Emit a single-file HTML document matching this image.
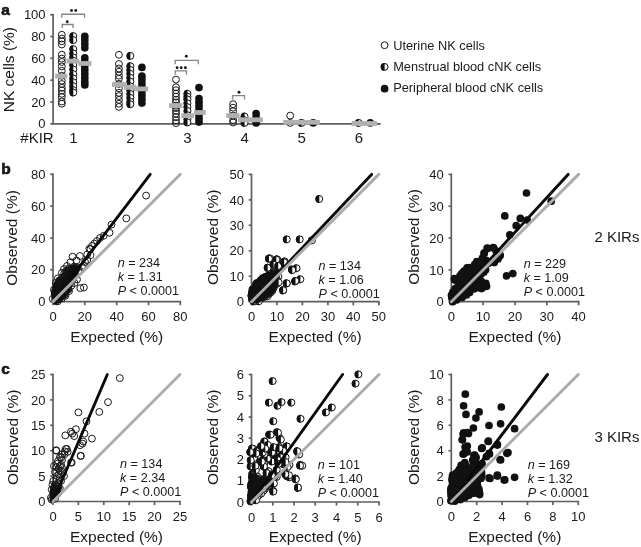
<!DOCTYPE html>
<html><head><meta charset="utf-8"><title>Figure</title>
<style>html,body{margin:0;padding:0;background:#fff;} svg{display:block;filter:grayscale(1);} text{font-family:"Liberation Sans", sans-serif;}</style>
</head><body>
<svg width="641" height="547" viewBox="0 0 641 547" font-family='"Liberation Sans", sans-serif' fill="#1a1a1a">
<defs>
<g id="o"><circle r="3.45" fill="none" stroke="#1a1a1a" stroke-width="1.0"/></g>
<g id="h"><circle r="3.45" fill="#fff" stroke="#111" stroke-width="1.0"/><path d="M0,-3.95 A3.95,3.95 0 0 0 0,3.95 Z" fill="#111"/></g>
<g id="f"><circle r="3.85" fill="#111"/></g>
</defs>
<rect width="641" height="547" fill="#fff"/>
<text x="1.2" y="14.6" font-size="15.5" text-anchor="start" font-weight="bold"  stroke="#111" stroke-width="0.6">a</text>
<line x1="53.1" y1="13.899999999999999" x2="53.1" y2="123.8" stroke="#5e5e5e" stroke-width="1.7"/>
<line x1="52.300000000000004" y1="123.8" x2="380.7" y2="123.8" stroke="#5e5e5e" stroke-width="1.7"/>
<line x1="50.3" y1="123.8" x2="53.1" y2="123.8" stroke="#5e5e5e" stroke-width="1.7"/>
<text x="45.6" y="128.4" font-size="13" text-anchor="end" font-weight="normal"  >0</text>
<line x1="50.3" y1="102.0" x2="53.1" y2="102.0" stroke="#5e5e5e" stroke-width="1.7"/>
<text x="45.6" y="106.6" font-size="13" text-anchor="end" font-weight="normal"  >20</text>
<line x1="50.3" y1="80.2" x2="53.1" y2="80.2" stroke="#5e5e5e" stroke-width="1.7"/>
<text x="45.6" y="84.8" font-size="13" text-anchor="end" font-weight="normal"  >40</text>
<line x1="50.3" y1="58.3" x2="53.1" y2="58.3" stroke="#5e5e5e" stroke-width="1.7"/>
<text x="45.6" y="62.9" font-size="13" text-anchor="end" font-weight="normal"  >60</text>
<line x1="50.3" y1="36.5" x2="53.1" y2="36.5" stroke="#5e5e5e" stroke-width="1.7"/>
<text x="45.6" y="41.1" font-size="13" text-anchor="end" font-weight="normal"  >80</text>
<line x1="50.3" y1="14.7" x2="53.1" y2="14.7" stroke="#5e5e5e" stroke-width="1.7"/>
<text x="45.6" y="19.3" font-size="13" text-anchor="end" font-weight="normal"  >100</text>
<text transform="translate(13.6,69.6) rotate(-90)" font-size="15.5" text-anchor="middle">NK cells (%)</text>
<text x="20.3" y="143.3" font-size="15" text-anchor="start" font-weight="normal"  >#KIR</text>
<text x="73.3" y="143.3" font-size="15" text-anchor="middle" font-weight="normal"  >1</text>
<text x="130.4" y="143.3" font-size="15" text-anchor="middle" font-weight="normal"  >2</text>
<text x="187.5" y="143.3" font-size="15" text-anchor="middle" font-weight="normal"  >3</text>
<text x="244.6" y="143.3" font-size="15" text-anchor="middle" font-weight="normal"  >4</text>
<text x="301.7" y="143.3" font-size="15" text-anchor="middle" font-weight="normal"  >5</text>
<text x="358.8" y="143.3" font-size="15" text-anchor="middle" font-weight="normal"  >6</text>
<use href="#o" x="61.8" y="34.8"/>
<use href="#o" x="61.8" y="38.6"/>
<use href="#o" x="61.8" y="41.3"/>
<use href="#o" x="61.8" y="44.5"/>
<use href="#o" x="61.8" y="54.7"/>
<use href="#o" x="61.8" y="58.6"/>
<use href="#o" x="61.8" y="62.0"/>
<use href="#o" x="61.8" y="66.4"/>
<use href="#o" x="61.8" y="70.8"/>
<use href="#o" x="61.8" y="75.8"/>
<use href="#o" x="61.8" y="80.7"/>
<use href="#o" x="61.8" y="84.0"/>
<use href="#o" x="61.8" y="87.8"/>
<use href="#o" x="61.8" y="90.5"/>
<use href="#o" x="61.8" y="93.8"/>
<use href="#o" x="61.8" y="97.1"/>
<use href="#o" x="61.8" y="101.5"/>
<use href="#o" x="61.8" y="103.7"/>
<use href="#h" x="73.3" y="36.1"/>
<use href="#h" x="73.3" y="40.1"/>
<use href="#h" x="73.3" y="49.1"/>
<use href="#h" x="73.3" y="53.5"/>
<use href="#h" x="73.3" y="57.4"/>
<use href="#h" x="73.3" y="60.6"/>
<use href="#h" x="73.3" y="65.0"/>
<use href="#h" x="73.3" y="69.5"/>
<use href="#h" x="73.3" y="74.1"/>
<use href="#h" x="73.3" y="78.5"/>
<use href="#h" x="73.3" y="82.3"/>
<use href="#h" x="73.3" y="86.2"/>
<use href="#h" x="73.3" y="90.1"/>
<use href="#h" x="73.3" y="92.5"/>
<use href="#f" x="84.8" y="36.3"/>
<use href="#f" x="84.8" y="39.8"/>
<use href="#f" x="84.8" y="43.8"/>
<use href="#f" x="84.8" y="47.8"/>
<use href="#f" x="84.8" y="57.9"/>
<use href="#f" x="84.8" y="61.9"/>
<use href="#f" x="84.8" y="65.9"/>
<use href="#f" x="84.8" y="69.9"/>
<use href="#f" x="84.8" y="73.8"/>
<use href="#f" x="84.8" y="77.9"/>
<use href="#f" x="84.8" y="81.8"/>
<use href="#f" x="84.8" y="84.9"/>
<use href="#o" x="118.9" y="54.8"/>
<use href="#o" x="118.9" y="64.0"/>
<use href="#o" x="118.9" y="68.6"/>
<use href="#o" x="118.9" y="71.8"/>
<use href="#o" x="118.9" y="75.6"/>
<use href="#o" x="118.9" y="78.7"/>
<use href="#o" x="118.9" y="83.9"/>
<use href="#o" x="118.9" y="88.3"/>
<use href="#o" x="118.9" y="92.8"/>
<use href="#o" x="118.9" y="96.1"/>
<use href="#o" x="118.9" y="99.9"/>
<use href="#o" x="118.9" y="103.7"/>
<use href="#o" x="118.9" y="106.9"/>
<use href="#h" x="130.4" y="55.9"/>
<use href="#h" x="130.4" y="66.2"/>
<use href="#h" x="130.4" y="70.0"/>
<use href="#h" x="130.4" y="73.8"/>
<use href="#h" x="130.4" y="77.8"/>
<use href="#h" x="130.4" y="81.6"/>
<use href="#h" x="130.4" y="86.4"/>
<use href="#h" x="130.4" y="90.2"/>
<use href="#h" x="130.4" y="94.0"/>
<use href="#h" x="130.4" y="97.9"/>
<use href="#h" x="130.4" y="101.7"/>
<use href="#h" x="130.4" y="104.3"/>
<use href="#f" x="141.9" y="67.4"/>
<use href="#f" x="141.9" y="76.2"/>
<use href="#f" x="141.9" y="80.1"/>
<use href="#f" x="141.9" y="83.9"/>
<use href="#f" x="141.9" y="87.8"/>
<use href="#f" x="141.9" y="91.5"/>
<use href="#f" x="141.9" y="95.4"/>
<use href="#f" x="141.9" y="99.3"/>
<use href="#f" x="141.9" y="103.1"/>
<use href="#o" x="176.0" y="79.6"/>
<use href="#o" x="176.0" y="87.3"/>
<use href="#o" x="176.0" y="90.2"/>
<use href="#o" x="176.0" y="93.5"/>
<use href="#o" x="176.0" y="96.7"/>
<use href="#o" x="176.0" y="99.7"/>
<use href="#o" x="176.0" y="102.3"/>
<use href="#o" x="176.0" y="105.7"/>
<use href="#o" x="176.0" y="108.0"/>
<use href="#o" x="176.0" y="110.9"/>
<use href="#o" x="176.0" y="113.7"/>
<use href="#o" x="176.0" y="117.1"/>
<use href="#o" x="176.0" y="120.4"/>
<use href="#o" x="176.0" y="123.1"/>
<use href="#h" x="187.5" y="93.8"/>
<use href="#h" x="187.5" y="96.7"/>
<use href="#h" x="187.5" y="99.5"/>
<use href="#h" x="187.5" y="103.3"/>
<use href="#h" x="187.5" y="107.1"/>
<use href="#h" x="187.5" y="110.9"/>
<use href="#h" x="187.5" y="115.2"/>
<use href="#h" x="187.5" y="119.4"/>
<use href="#h" x="187.5" y="122.4"/>
<use href="#f" x="199.0" y="87.6"/>
<use href="#f" x="199.0" y="98.5"/>
<use href="#f" x="199.0" y="102.3"/>
<use href="#f" x="199.0" y="106.1"/>
<use href="#f" x="199.0" y="109.9"/>
<use href="#f" x="199.0" y="112.5"/>
<use href="#f" x="199.0" y="114.7"/>
<use href="#f" x="199.0" y="118.6"/>
<use href="#f" x="199.0" y="122.1"/>
<use href="#o" x="233.1" y="104.2"/>
<use href="#o" x="233.1" y="107.7"/>
<use href="#o" x="233.1" y="111.3"/>
<use href="#o" x="233.1" y="115.6"/>
<use href="#o" x="233.1" y="120.0"/>
<use href="#o" x="233.1" y="122.5"/>
<use href="#h" x="244.6" y="116.5"/>
<use href="#h" x="244.6" y="120.3"/>
<use href="#h" x="244.6" y="122.9"/>
<use href="#f" x="256.1" y="113.5"/>
<use href="#f" x="256.1" y="117.3"/>
<use href="#f" x="256.1" y="120.5"/>
<use href="#f" x="256.1" y="122.9"/>
<use href="#o" x="290.2" y="115.6"/>
<use href="#o" x="290.2" y="122.9"/>
<use href="#h" x="301.7" y="122.9"/>
<use href="#f" x="313.2" y="122.9"/>
<use href="#h" x="358.8" y="122.9"/>
<use href="#f" x="370.3" y="122.9"/>
<rect x="55.2" y="73.7" width="12.1" height="4.8" fill="#b0b0b0"/>
<rect x="66.6" y="58.7" width="12.7" height="4.8" fill="#b0b0b0"/>
<rect x="78.4" y="61.1" width="13.0" height="4.8" fill="#b0b0b0"/>
<rect x="112" y="82.1" width="14.3" height="4.8" fill="#b0b0b0"/>
<rect x="123.8" y="84.9" width="12.7" height="4.8" fill="#b0b0b0"/>
<rect x="135" y="86.5" width="13.2" height="4.8" fill="#b0b0b0"/>
<rect x="169.2" y="103.2" width="13.2" height="4.8" fill="#b0b0b0"/>
<rect x="181.3" y="113.3" width="12.7" height="4.8" fill="#b0b0b0"/>
<rect x="194" y="110.1" width="11.7" height="4.8" fill="#b0b0b0"/>
<rect x="226.2" y="113.2" width="13.3" height="4.8" fill="#b0b0b0"/>
<rect x="238" y="117.4" width="24.9" height="4.8" fill="#b0b0b0"/>
<rect x="283.2" y="119.9" width="36.7" height="4.8" fill="#b0b0b0"/>
<rect x="351.7" y="121.1" width="25.3" height="4.8" fill="#b0b0b0"/>
<path d="M61.75,17.75 V14.25 H84.5 V17.75" fill="none" stroke="#858585" stroke-width="1.3"/>
<circle cx="71.5" cy="10.5" r="1.45" fill="#1a1a1a"/>
<circle cx="75.75" cy="10.5" r="1.45" fill="#1a1a1a"/>
<path d="M62.25,28 V24.5 H73 V28" fill="none" stroke="#858585" stroke-width="1.3"/>
<circle cx="67.25" cy="21.75" r="1.45" fill="#1a1a1a"/>
<path d="M175.2,64.3 V60.4 H198.2 V64.3" fill="none" stroke="#858585" stroke-width="1.3"/>
<circle cx="186.3" cy="56.3" r="1.45" fill="#1a1a1a"/>
<path d="M175.2,74.7 V70.8 H186.5 V74.7" fill="none" stroke="#858585" stroke-width="1.3"/>
<circle cx="177.1" cy="67.7" r="1.45" fill="#1a1a1a"/>
<circle cx="181.2" cy="67.7" r="1.45" fill="#1a1a1a"/>
<circle cx="185.4" cy="67.7" r="1.45" fill="#1a1a1a"/>
<path d="M232.8,99.5 V95.6 H244.5 V99.5" fill="none" stroke="#858585" stroke-width="1.3"/>
<circle cx="239.0" cy="92.2" r="1.45" fill="#1a1a1a"/>
<use href="#o" x="384.6" y="45.2"/>
<text x="393.2" y="49.5" font-size="12.8" text-anchor="start" font-weight="normal"  >Uterine NK cells</text>
<use href="#h" x="384.6" y="66.9"/>
<text x="393.2" y="70.8" font-size="12.8" text-anchor="start" font-weight="normal"  >Menstrual blood cNK cells</text>
<use href="#f" x="384.6" y="88.7"/>
<text x="393.2" y="92.1" font-size="12.8" text-anchor="start" font-weight="normal"  >Peripheral blood cNK cells</text>
<line x1="53" y1="173.5" x2="53" y2="301.6" stroke="#5e5e5e" stroke-width="1.7"/>
<line x1="52.2" y1="301.6" x2="181.10000000000002" y2="301.6" stroke="#5e5e5e" stroke-width="1.7"/>
<line x1="50.2" y1="301.6" x2="53" y2="301.6" stroke="#5e5e5e" stroke-width="1.7"/>
<line x1="53.0" y1="301.6" x2="53.0" y2="305.20000000000005" stroke="#5e5e5e" stroke-width="1.7"/>
<text x="45.4" y="306.2" font-size="13" text-anchor="end" font-weight="normal"  >0</text>
<text x="53.0" y="321.2" font-size="13" text-anchor="middle" font-weight="normal"  >0</text>
<line x1="50.2" y1="269.8" x2="53" y2="269.8" stroke="#5e5e5e" stroke-width="1.7"/>
<line x1="84.8" y1="301.6" x2="84.8" y2="305.20000000000005" stroke="#5e5e5e" stroke-width="1.7"/>
<text x="45.4" y="274.4" font-size="13" text-anchor="end" font-weight="normal"  >20</text>
<text x="84.8" y="321.2" font-size="13" text-anchor="middle" font-weight="normal"  >20</text>
<line x1="50.2" y1="238.0" x2="53" y2="238.0" stroke="#5e5e5e" stroke-width="1.7"/>
<line x1="116.7" y1="301.6" x2="116.7" y2="305.20000000000005" stroke="#5e5e5e" stroke-width="1.7"/>
<text x="45.4" y="242.6" font-size="13" text-anchor="end" font-weight="normal"  >40</text>
<text x="116.7" y="321.2" font-size="13" text-anchor="middle" font-weight="normal"  >40</text>
<line x1="50.2" y1="206.1" x2="53" y2="206.1" stroke="#5e5e5e" stroke-width="1.7"/>
<line x1="148.5" y1="301.6" x2="148.5" y2="305.20000000000005" stroke="#5e5e5e" stroke-width="1.7"/>
<text x="45.4" y="210.7" font-size="13" text-anchor="end" font-weight="normal"  >60</text>
<text x="148.5" y="321.2" font-size="13" text-anchor="middle" font-weight="normal"  >60</text>
<line x1="50.2" y1="174.3" x2="53" y2="174.3" stroke="#5e5e5e" stroke-width="1.7"/>
<line x1="180.3" y1="301.6" x2="180.3" y2="305.20000000000005" stroke="#5e5e5e" stroke-width="1.7"/>
<text x="45.4" y="178.9" font-size="13" text-anchor="end" font-weight="normal"  >80</text>
<text x="180.3" y="321.2" font-size="13" text-anchor="middle" font-weight="normal"  >80</text>
<text x="116.7" y="341.9" font-size="15.5" text-anchor="middle" font-weight="normal"  >Expected (%)</text>
<text transform="translate(17.4,237.9) rotate(-90)" font-size="15.5" text-anchor="middle">Observed (%)</text>
<text x="117.7" y="266.9" font-size="12.6"><tspan font-style="italic">n</tspan> = 234</text>
<text x="117.7" y="280.6" font-size="12.6"><tspan font-style="italic">k</tspan> = 1.31</text>
<text x="117.7" y="295" font-size="12.6"><tspan font-style="italic">P</tspan> &lt; 0.0001</text>
<use href="#o" x="52.7" y="298.8"/>
<use href="#o" x="53.9" y="289.7"/>
<use href="#o" x="55.8" y="282.8"/>
<use href="#o" x="59.5" y="280.3"/>
<use href="#o" x="62.0" y="277.4"/>
<use href="#o" x="64.3" y="273.2"/>
<use href="#o" x="66.6" y="270.5"/>
<use href="#o" x="69.1" y="268.3"/>
<use href="#o" x="74.0" y="266.6"/>
<use href="#o" x="76.7" y="267.3"/>
<use href="#o" x="78.4" y="271.1"/>
<use href="#o" x="75.3" y="275.6"/>
<use href="#o" x="72.3" y="280.4"/>
<use href="#o" x="69.7" y="284.1"/>
<use href="#o" x="68.5" y="289.3"/>
<use href="#o" x="64.7" y="294.8"/>
<use href="#o" x="61.7" y="298.6"/>
<use href="#o" x="57.7" y="301.3"/>
<use href="#o" x="56.1" y="301.4"/>
<polygon points="51.5,301.0 50.9,291.5 53.5,283.0 56.5,278.5 61.0,275.5 63.5,270.0 66.0,267.0 70.0,265.5 74.0,264.0 79.0,265.5 80.6,269.0 78.0,274.0 75.0,279.0 72.0,285.0 71.0,291.5 65.5,297.9 61.9,301.6 57.0,304.0 53.0,304.0" fill="#111"/>
<use href="#o" x="146.1" y="195.6"/>
<use href="#o" x="126.3" y="218.4"/>
<use href="#o" x="111.5" y="224.6"/>
<use href="#o" x="109.5" y="232.7"/>
<use href="#o" x="103.7" y="235.8"/>
<use href="#o" x="94.3" y="243.6"/>
<use href="#o" x="90.4" y="249.1"/>
<use href="#o" x="72.6" y="256.7"/>
<use href="#o" x="79.9" y="256.0"/>
<use href="#o" x="70.4" y="262.2"/>
<use href="#o" x="61.9" y="272.8"/>
<use href="#o" x="57.9" y="278.3"/>
<use href="#o" x="80.3" y="288.1"/>
<use href="#o" x="83.9" y="287.5"/>
<use href="#o" x="89.4" y="248.7"/>
<use href="#o" x="90.5" y="255.2"/>
<use href="#o" x="87.2" y="260.0"/>
<use href="#o" x="87.2" y="254.5"/>
<use href="#o" x="83.9" y="265.8"/>
<use href="#o" x="82.0" y="266.9"/>
<use href="#o" x="71.4" y="285.7"/>
<use href="#o" x="69.0" y="291.1"/>
<use href="#o" x="65.4" y="295.8"/>
<use href="#o" x="76.5" y="260.5"/>
<use href="#o" x="67.0" y="266.0"/>
<use href="#o" x="64.0" y="269.0"/>
<use href="#o" x="100.0" y="238.0"/>
<use href="#o" x="97.0" y="241.0"/>
<use href="#o" x="92.0" y="246.0"/>
<use href="#o" x="85.0" y="262.0"/>
<use href="#o" x="74.5" y="283.0"/>
<use href="#o" x="77.0" y="279.5"/>
<line x1="53" y1="301.6" x2="150.2" y2="174.3" stroke="#0a0a0a" stroke-width="2.9" stroke-linecap="round"/>
<line x1="53" y1="301.6" x2="180.3" y2="174.3" stroke="#ababab" stroke-width="2.9" stroke-linecap="round"/>
<line x1="251.5" y1="173.59999999999997" x2="251.5" y2="301.7" stroke="#5e5e5e" stroke-width="1.7"/>
<line x1="250.7" y1="301.7" x2="379.6" y2="301.7" stroke="#5e5e5e" stroke-width="1.7"/>
<line x1="248.7" y1="301.7" x2="251.5" y2="301.7" stroke="#5e5e5e" stroke-width="1.7"/>
<line x1="251.5" y1="301.7" x2="251.5" y2="305.3" stroke="#5e5e5e" stroke-width="1.7"/>
<text x="243.9" y="306.3" font-size="13" text-anchor="end" font-weight="normal"  >0</text>
<text x="251.5" y="321.3" font-size="13" text-anchor="middle" font-weight="normal"  >0</text>
<line x1="248.7" y1="276.2" x2="251.5" y2="276.2" stroke="#5e5e5e" stroke-width="1.7"/>
<line x1="277.0" y1="301.7" x2="277.0" y2="305.3" stroke="#5e5e5e" stroke-width="1.7"/>
<text x="243.9" y="280.8" font-size="13" text-anchor="end" font-weight="normal"  >10</text>
<text x="277.0" y="321.3" font-size="13" text-anchor="middle" font-weight="normal"  >10</text>
<line x1="248.7" y1="250.8" x2="251.5" y2="250.8" stroke="#5e5e5e" stroke-width="1.7"/>
<line x1="302.4" y1="301.7" x2="302.4" y2="305.3" stroke="#5e5e5e" stroke-width="1.7"/>
<text x="243.9" y="255.4" font-size="13" text-anchor="end" font-weight="normal"  >20</text>
<text x="302.4" y="321.3" font-size="13" text-anchor="middle" font-weight="normal"  >20</text>
<line x1="248.7" y1="225.3" x2="251.5" y2="225.3" stroke="#5e5e5e" stroke-width="1.7"/>
<line x1="327.9" y1="301.7" x2="327.9" y2="305.3" stroke="#5e5e5e" stroke-width="1.7"/>
<text x="243.9" y="229.9" font-size="13" text-anchor="end" font-weight="normal"  >30</text>
<text x="327.9" y="321.3" font-size="13" text-anchor="middle" font-weight="normal"  >30</text>
<line x1="248.7" y1="199.9" x2="251.5" y2="199.9" stroke="#5e5e5e" stroke-width="1.7"/>
<line x1="353.3" y1="301.7" x2="353.3" y2="305.3" stroke="#5e5e5e" stroke-width="1.7"/>
<text x="243.9" y="204.5" font-size="13" text-anchor="end" font-weight="normal"  >40</text>
<text x="353.3" y="321.3" font-size="13" text-anchor="middle" font-weight="normal"  >40</text>
<line x1="248.7" y1="174.4" x2="251.5" y2="174.4" stroke="#5e5e5e" stroke-width="1.7"/>
<line x1="378.8" y1="301.7" x2="378.8" y2="305.3" stroke="#5e5e5e" stroke-width="1.7"/>
<text x="243.9" y="179.0" font-size="13" text-anchor="end" font-weight="normal"  >50</text>
<text x="378.8" y="321.3" font-size="13" text-anchor="middle" font-weight="normal"  >50</text>
<text x="315.1" y="342.0" font-size="15.5" text-anchor="middle" font-weight="normal"  >Expected (%)</text>
<text transform="translate(218.2,237.3) rotate(-90)" font-size="15.5" text-anchor="middle">Observed (%)</text>
<text x="318.5" y="269.7" font-size="12.6"><tspan font-style="italic">n</tspan> = 134</text>
<text x="318.5" y="283.7" font-size="12.6"><tspan font-style="italic">k</tspan> = 1.06</text>
<text x="318.5" y="297.7" font-size="12.6"><tspan font-style="italic">P</tspan> &lt; 0.0001</text>
<use href="#h" x="251.9" y="293.0"/>
<use href="#h" x="252.6" y="289.5"/>
<use href="#h" x="254.6" y="288.5"/>
<use href="#h" x="256.0" y="284.8"/>
<use href="#h" x="256.7" y="283.3"/>
<use href="#h" x="259.7" y="281.8"/>
<use href="#h" x="260.9" y="280.2"/>
<use href="#h" x="262.9" y="278.2"/>
<use href="#h" x="265.6" y="276.9"/>
<use href="#h" x="269.3" y="274.6"/>
<use href="#h" x="273.7" y="272.5"/>
<use href="#h" x="277.8" y="271.1"/>
<use href="#h" x="277.4" y="274.0"/>
<use href="#h" x="278.3" y="276.7"/>
<use href="#h" x="277.5" y="280.7"/>
<use href="#h" x="277.0" y="283.6"/>
<use href="#h" x="274.8" y="285.6"/>
<use href="#h" x="273.3" y="288.6"/>
<use href="#h" x="272.3" y="290.9"/>
<use href="#h" x="270.5" y="292.6"/>
<use href="#h" x="268.4" y="294.9"/>
<use href="#h" x="267.3" y="296.3"/>
<use href="#h" x="264.0" y="297.1"/>
<use href="#h" x="260.6" y="299.0"/>
<use href="#h" x="258.8" y="301.3"/>
<use href="#h" x="255.8" y="301.1"/>
<use href="#h" x="253.8" y="301.4"/>
<use href="#h" x="252.0" y="298.9"/>
<use href="#h" x="251.5" y="295.6"/>
<polygon points="248.9,293.4 254.4,282.4 261.7,276.0 269.0,271.9 274.5,270.5 279.0,268.7 280.0,275.1 278.2,285.2 274.5,292.5 269.0,298.0 263.5,300.7 257.1,303.4 251.0,304.0" fill="#111"/>
<use href="#h" x="319.3" y="199.0"/>
<use href="#h" x="286.8" y="239.4"/>
<use href="#h" x="299.8" y="239.4"/>
<use href="#h" x="312.0" y="240.4"/>
<use href="#h" x="270.0" y="258.3"/>
<use href="#h" x="277.3" y="259.3"/>
<use href="#h" x="284.7" y="261.4"/>
<use href="#h" x="267.9" y="267.7"/>
<use href="#h" x="273.5" y="264.6"/>
<use href="#h" x="279.4" y="265.6"/>
<use href="#h" x="292.0" y="269.4"/>
<use href="#h" x="296.6" y="268.2"/>
<use href="#h" x="295.2" y="281.4"/>
<use href="#h" x="300.4" y="279.3"/>
<use href="#h" x="286.8" y="283.5"/>
<use href="#h" x="283.2" y="290.4"/>
<use href="#h" x="269.0" y="258.7"/>
<use href="#h" x="276.3" y="259.6"/>
<use href="#h" x="267.7" y="267.8"/>
<use href="#h" x="273.6" y="264.6"/>
<use href="#h" x="278.2" y="266.0"/>
<use href="#h" x="284.1" y="262.3"/>
<use href="#h" x="292.3" y="270.1"/>
<use href="#h" x="295.5" y="281.0"/>
<use href="#h" x="286.8" y="283.3"/>
<use href="#h" x="283.2" y="290.2"/>
<use href="#h" x="278.6" y="282.4"/>
<line x1="251.5" y1="301.7" x2="371.6" y2="174.39999999999998" stroke="#0a0a0a" stroke-width="2.9" stroke-linecap="round"/>
<line x1="251.5" y1="301.7" x2="378.8" y2="174.39999999999998" stroke="#ababab" stroke-width="2.9" stroke-linecap="round"/>
<line x1="451.3" y1="173.59999999999997" x2="451.3" y2="301.7" stroke="#5e5e5e" stroke-width="1.7"/>
<line x1="450.5" y1="301.7" x2="579.4" y2="301.7" stroke="#5e5e5e" stroke-width="1.7"/>
<line x1="448.5" y1="301.7" x2="451.3" y2="301.7" stroke="#5e5e5e" stroke-width="1.7"/>
<line x1="451.3" y1="301.7" x2="451.3" y2="305.3" stroke="#5e5e5e" stroke-width="1.7"/>
<text x="443.7" y="306.3" font-size="13" text-anchor="end" font-weight="normal"  >0</text>
<text x="451.3" y="321.3" font-size="13" text-anchor="middle" font-weight="normal"  >0</text>
<line x1="448.5" y1="269.9" x2="451.3" y2="269.9" stroke="#5e5e5e" stroke-width="1.7"/>
<line x1="483.1" y1="301.7" x2="483.1" y2="305.3" stroke="#5e5e5e" stroke-width="1.7"/>
<text x="443.7" y="274.5" font-size="13" text-anchor="end" font-weight="normal"  >10</text>
<text x="483.1" y="321.3" font-size="13" text-anchor="middle" font-weight="normal"  >10</text>
<line x1="448.5" y1="238.0" x2="451.3" y2="238.0" stroke="#5e5e5e" stroke-width="1.7"/>
<line x1="515.0" y1="301.7" x2="515.0" y2="305.3" stroke="#5e5e5e" stroke-width="1.7"/>
<text x="443.7" y="242.6" font-size="13" text-anchor="end" font-weight="normal"  >20</text>
<text x="515.0" y="321.3" font-size="13" text-anchor="middle" font-weight="normal"  >20</text>
<line x1="448.5" y1="206.2" x2="451.3" y2="206.2" stroke="#5e5e5e" stroke-width="1.7"/>
<line x1="546.8" y1="301.7" x2="546.8" y2="305.3" stroke="#5e5e5e" stroke-width="1.7"/>
<text x="443.7" y="210.8" font-size="13" text-anchor="end" font-weight="normal"  >30</text>
<text x="546.8" y="321.3" font-size="13" text-anchor="middle" font-weight="normal"  >30</text>
<line x1="448.5" y1="174.4" x2="451.3" y2="174.4" stroke="#5e5e5e" stroke-width="1.7"/>
<line x1="578.6" y1="301.7" x2="578.6" y2="305.3" stroke="#5e5e5e" stroke-width="1.7"/>
<text x="443.7" y="179.0" font-size="13" text-anchor="end" font-weight="normal"  >40</text>
<text x="578.6" y="321.3" font-size="13" text-anchor="middle" font-weight="normal"  >40</text>
<text x="515.0" y="342.0" font-size="15.5" text-anchor="middle" font-weight="normal"  >Expected (%)</text>
<text transform="translate(418.5,237.0) rotate(-90)" font-size="15.5" text-anchor="middle">Observed (%)</text>
<text x="523.7" y="268.1" font-size="12.6"><tspan font-style="italic">n</tspan> = 229</text>
<text x="523.7" y="281.9" font-size="12.6"><tspan font-style="italic">k</tspan> = 1.09</text>
<text x="523.7" y="295.6" font-size="12.6"><tspan font-style="italic">P</tspan> &lt; 0.0001</text>
<use href="#f" x="451.8" y="297.7"/>
<use href="#f" x="451.5" y="295.2"/>
<use href="#f" x="452.9" y="292.0"/>
<use href="#f" x="455.3" y="288.6"/>
<use href="#f" x="459.7" y="285.2"/>
<use href="#f" x="457.7" y="281.7"/>
<use href="#f" x="454.8" y="279.9"/>
<use href="#f" x="454.5" y="278.7"/>
<use href="#f" x="460.0" y="275.8"/>
<use href="#f" x="461.7" y="273.7"/>
<use href="#f" x="463.2" y="272.5"/>
<use href="#f" x="464.0" y="271.0"/>
<use href="#f" x="467.4" y="268.2"/>
<use href="#f" x="470.0" y="267.6"/>
<use href="#f" x="474.8" y="264.4"/>
<use href="#f" x="476.8" y="261.5"/>
<use href="#f" x="482.4" y="258.2"/>
<use href="#f" x="486.1" y="260.3"/>
<use href="#f" x="488.4" y="263.3"/>
<use href="#f" x="485.6" y="269.7"/>
<use href="#f" x="483.7" y="272.2"/>
<use href="#f" x="480.9" y="274.2"/>
<use href="#f" x="479.0" y="276.4"/>
<use href="#f" x="478.5" y="280.6"/>
<use href="#f" x="481.1" y="281.1"/>
<use href="#f" x="485.8" y="283.3"/>
<use href="#f" x="486.5" y="286.3"/>
<use href="#f" x="481.6" y="288.6"/>
<use href="#f" x="478.5" y="287.6"/>
<use href="#f" x="476.1" y="287.5"/>
<use href="#f" x="473.9" y="289.0"/>
<use href="#f" x="470.4" y="287.8"/>
<use href="#f" x="469.6" y="292.5"/>
<use href="#f" x="466.5" y="295.0"/>
<use href="#f" x="462.1" y="297.4"/>
<use href="#f" x="456.5" y="300.0"/>
<use href="#f" x="452.7" y="301.7"/>
<polygon points="449.6,299.7 450.4,293.4 452.7,289.1 456.6,285.6 455.1,282.4 452.5,280.0 453.2,277.3 457.4,274.6 459.0,272.2 463.7,267.5 466.9,265.1 470.8,265.1 474.7,262.0 478.1,258.6 483.1,257.1 487.0,258.0 490.0,262.0 487.7,267.2 486.2,271.2 481.1,275.2 481.6,280.2 487.2,284.3 488.2,287.3 484.1,289.8 478.1,289.8 471.6,291.0 469.2,295.0 465.3,298.1 460.6,300.0 455.9,302.1 451.9,303.6" fill="#111"/>
<use href="#f" x="526.5" y="193.0"/>
<use href="#f" x="551.2" y="201.2"/>
<use href="#f" x="504.8" y="215.9"/>
<use href="#f" x="520.3" y="218.4"/>
<use href="#f" x="527.2" y="220.0"/>
<use href="#f" x="516.2" y="225.7"/>
<use href="#f" x="509.8" y="234.8"/>
<use href="#f" x="487.7" y="248.5"/>
<use href="#f" x="493.8" y="248.0"/>
<use href="#f" x="484.3" y="253.1"/>
<use href="#f" x="499.8" y="256.0"/>
<use href="#f" x="494.5" y="261.1"/>
<use href="#f" x="506.6" y="275.9"/>
<use href="#f" x="512.8" y="273.6"/>
<use href="#f" x="485.4" y="286.2"/>
<use href="#f" x="467.1" y="267.9"/>
<use href="#f" x="454.6" y="279.3"/>
<use href="#f" x="484.1" y="253.1"/>
<use href="#f" x="487.2" y="248.0"/>
<use href="#f" x="493.2" y="247.5"/>
<use href="#f" x="496.2" y="251.1"/>
<use href="#f" x="500.2" y="255.1"/>
<use href="#f" x="494.2" y="262.6"/>
<use href="#f" x="498.0" y="259.0"/>
<use href="#f" x="485.5" y="286.5"/>
<line x1="451.3" y1="301.7" x2="568.1" y2="174.39999999999998" stroke="#0a0a0a" stroke-width="2.9" stroke-linecap="round"/>
<line x1="451.3" y1="301.7" x2="578.6" y2="174.39999999999998" stroke="#ababab" stroke-width="2.9" stroke-linecap="round"/>
<line x1="53" y1="373.7" x2="53" y2="501.5" stroke="#5e5e5e" stroke-width="1.7"/>
<line x1="52.2" y1="501.5" x2="180.8" y2="501.5" stroke="#5e5e5e" stroke-width="1.7"/>
<line x1="50.2" y1="501.5" x2="53" y2="501.5" stroke="#5e5e5e" stroke-width="1.7"/>
<line x1="53.0" y1="501.5" x2="53.0" y2="505.1" stroke="#5e5e5e" stroke-width="1.7"/>
<text x="45.4" y="506.1" font-size="13" text-anchor="end" font-weight="normal"  >0</text>
<text x="53.0" y="521.1" font-size="13" text-anchor="middle" font-weight="normal"  >0</text>
<line x1="50.2" y1="476.1" x2="53" y2="476.1" stroke="#5e5e5e" stroke-width="1.7"/>
<line x1="78.4" y1="501.5" x2="78.4" y2="505.1" stroke="#5e5e5e" stroke-width="1.7"/>
<text x="45.4" y="480.7" font-size="13" text-anchor="end" font-weight="normal"  >5</text>
<text x="78.4" y="521.1" font-size="13" text-anchor="middle" font-weight="normal"  >5</text>
<line x1="50.2" y1="450.7" x2="53" y2="450.7" stroke="#5e5e5e" stroke-width="1.7"/>
<line x1="103.8" y1="501.5" x2="103.8" y2="505.1" stroke="#5e5e5e" stroke-width="1.7"/>
<text x="45.4" y="455.3" font-size="13" text-anchor="end" font-weight="normal"  >10</text>
<text x="103.8" y="521.1" font-size="13" text-anchor="middle" font-weight="normal"  >10</text>
<line x1="50.2" y1="425.3" x2="53" y2="425.3" stroke="#5e5e5e" stroke-width="1.7"/>
<line x1="129.2" y1="501.5" x2="129.2" y2="505.1" stroke="#5e5e5e" stroke-width="1.7"/>
<text x="45.4" y="429.9" font-size="13" text-anchor="end" font-weight="normal"  >15</text>
<text x="129.2" y="521.1" font-size="13" text-anchor="middle" font-weight="normal"  >15</text>
<line x1="50.2" y1="399.9" x2="53" y2="399.9" stroke="#5e5e5e" stroke-width="1.7"/>
<line x1="154.6" y1="501.5" x2="154.6" y2="505.1" stroke="#5e5e5e" stroke-width="1.7"/>
<text x="45.4" y="404.5" font-size="13" text-anchor="end" font-weight="normal"  >20</text>
<text x="154.6" y="521.1" font-size="13" text-anchor="middle" font-weight="normal"  >20</text>
<line x1="50.2" y1="374.5" x2="53" y2="374.5" stroke="#5e5e5e" stroke-width="1.7"/>
<line x1="180.0" y1="501.5" x2="180.0" y2="505.1" stroke="#5e5e5e" stroke-width="1.7"/>
<text x="45.4" y="379.1" font-size="13" text-anchor="end" font-weight="normal"  >25</text>
<text x="180.0" y="521.1" font-size="13" text-anchor="middle" font-weight="normal"  >25</text>
<text x="116.5" y="541.8" font-size="15.5" text-anchor="middle" font-weight="normal"  >Expected (%)</text>
<text transform="translate(18.3,437.3) rotate(-90)" font-size="15.5" text-anchor="middle">Observed (%)</text>
<text x="120.0" y="468.1" font-size="12.6"><tspan font-style="italic">n</tspan> = 134</text>
<text x="120.0" y="482.2" font-size="12.6"><tspan font-style="italic">k</tspan> = 2.34</text>
<text x="120.0" y="496.2" font-size="12.6"><tspan font-style="italic">P</tspan> &lt; 0.0001</text>
<use href="#o" x="50.9" y="497.8"/>
<use href="#o" x="53.1" y="493.8"/>
<use href="#o" x="51.7" y="489.4"/>
<use href="#o" x="52.4" y="484.7"/>
<use href="#o" x="55.6" y="486.3"/>
<use href="#o" x="58.4" y="486.7"/>
<use href="#o" x="59.8" y="488.2"/>
<use href="#o" x="57.6" y="493.6"/>
<use href="#o" x="55.0" y="498.7"/>
<use href="#o" x="51.6" y="499.6"/>
<polygon points="49.5,500.0 50.0,488.0 52.0,482.0 56.0,484.0 60.0,485.0 62.0,487.0 60.0,495.0 55.0,502.0 51.0,503.0" fill="#111"/>
<use href="#o" x="119.8" y="378.1"/>
<use href="#o" x="108.0" y="402.1"/>
<use href="#o" x="99.3" y="411.9"/>
<use href="#o" x="78.4" y="412.4"/>
<use href="#o" x="86.5" y="421.3"/>
<use href="#o" x="75.9" y="429.2"/>
<use href="#o" x="71.0" y="431.7"/>
<use href="#o" x="72.2" y="433.6"/>
<use href="#o" x="65.3" y="435.4"/>
<use href="#o" x="74.2" y="436.1"/>
<use href="#o" x="84.5" y="433.6"/>
<use href="#o" x="91.9" y="438.6"/>
<use href="#o" x="83.3" y="441.5"/>
<use href="#o" x="80.1" y="445.2"/>
<use href="#o" x="80.8" y="455.8"/>
<use href="#o" x="66.8" y="448.9"/>
<use href="#o" x="56.2" y="450.2"/>
<use href="#o" x="64.8" y="451.4"/>
<use href="#o" x="62.3" y="454.4"/>
<use href="#o" x="61.1" y="457.6"/>
<use href="#o" x="71.0" y="462.5"/>
<use href="#o" x="57.4" y="463.7"/>
<use href="#o" x="58.6" y="468.7"/>
<use href="#o" x="56.3" y="450.7"/>
<use href="#o" x="65.8" y="448.9"/>
<use href="#o" x="64.6" y="454.2"/>
<use href="#o" x="67.6" y="451.9"/>
<use href="#o" x="71.7" y="462.6"/>
<use href="#o" x="80.6" y="456.0"/>
<use href="#o" x="82.4" y="443.6"/>
<use href="#o" x="56.3" y="467.3"/>
<use href="#o" x="61.1" y="464.9"/>
<use href="#o" x="59.9" y="470.9"/>
<use href="#o" x="58.7" y="474.4"/>
<use href="#o" x="53.3" y="481.0"/>
<use href="#o" x="56.9" y="479.2"/>
<use href="#o" x="59.9" y="478.0"/>
<use href="#o" x="62.0" y="460.0"/>
<use href="#o" x="60.0" y="466.0"/>
<use href="#o" x="63.0" y="472.0"/>
<use href="#o" x="57.0" y="476.0"/>
<use href="#o" x="55.0" y="472.0"/>
<use href="#o" x="54.0" y="466.0"/>
<use href="#o" x="60.0" y="457.0"/>
<use href="#o" x="58.0" y="461.0"/>
<use href="#o" x="62.0" y="468.0"/>
<use href="#o" x="64.0" y="476.0"/>
<use href="#o" x="55.0" y="485.0"/>
<use href="#o" x="58.0" y="483.0"/>
<use href="#o" x="61.0" y="481.0"/>
<line x1="53" y1="501.5" x2="107.3" y2="374.5" stroke="#0a0a0a" stroke-width="2.9" stroke-linecap="round"/>
<line x1="53" y1="501.5" x2="180" y2="374.5" stroke="#ababab" stroke-width="2.9" stroke-linecap="round"/>
<line x1="251.5" y1="373.7" x2="251.5" y2="502" stroke="#5e5e5e" stroke-width="1.7"/>
<line x1="250.7" y1="502" x2="379.8" y2="502" stroke="#5e5e5e" stroke-width="1.7"/>
<line x1="248.7" y1="502.0" x2="251.5" y2="502.0" stroke="#5e5e5e" stroke-width="1.7"/>
<line x1="251.5" y1="502" x2="251.5" y2="505.6" stroke="#5e5e5e" stroke-width="1.7"/>
<text x="243.9" y="506.6" font-size="13" text-anchor="end" font-weight="normal"  >0</text>
<text x="251.5" y="521.6" font-size="13" text-anchor="middle" font-weight="normal"  >0</text>
<line x1="248.7" y1="480.8" x2="251.5" y2="480.8" stroke="#5e5e5e" stroke-width="1.7"/>
<line x1="272.8" y1="502" x2="272.8" y2="505.6" stroke="#5e5e5e" stroke-width="1.7"/>
<text x="243.9" y="485.4" font-size="13" text-anchor="end" font-weight="normal"  >1</text>
<text x="272.8" y="521.6" font-size="13" text-anchor="middle" font-weight="normal"  >1</text>
<line x1="248.7" y1="459.5" x2="251.5" y2="459.5" stroke="#5e5e5e" stroke-width="1.7"/>
<line x1="294.0" y1="502" x2="294.0" y2="505.6" stroke="#5e5e5e" stroke-width="1.7"/>
<text x="243.9" y="464.1" font-size="13" text-anchor="end" font-weight="normal"  >2</text>
<text x="294.0" y="521.6" font-size="13" text-anchor="middle" font-weight="normal"  >2</text>
<line x1="248.7" y1="438.2" x2="251.5" y2="438.2" stroke="#5e5e5e" stroke-width="1.7"/>
<line x1="315.2" y1="502" x2="315.2" y2="505.6" stroke="#5e5e5e" stroke-width="1.7"/>
<text x="243.9" y="442.9" font-size="13" text-anchor="end" font-weight="normal"  >3</text>
<text x="315.2" y="521.6" font-size="13" text-anchor="middle" font-weight="normal"  >3</text>
<line x1="248.7" y1="417.0" x2="251.5" y2="417.0" stroke="#5e5e5e" stroke-width="1.7"/>
<line x1="336.5" y1="502" x2="336.5" y2="505.6" stroke="#5e5e5e" stroke-width="1.7"/>
<text x="243.9" y="421.6" font-size="13" text-anchor="end" font-weight="normal"  >4</text>
<text x="336.5" y="521.6" font-size="13" text-anchor="middle" font-weight="normal"  >4</text>
<line x1="248.7" y1="395.8" x2="251.5" y2="395.8" stroke="#5e5e5e" stroke-width="1.7"/>
<line x1="357.8" y1="502" x2="357.8" y2="505.6" stroke="#5e5e5e" stroke-width="1.7"/>
<text x="243.9" y="400.4" font-size="13" text-anchor="end" font-weight="normal"  >5</text>
<text x="357.8" y="521.6" font-size="13" text-anchor="middle" font-weight="normal"  >5</text>
<line x1="248.7" y1="374.5" x2="251.5" y2="374.5" stroke="#5e5e5e" stroke-width="1.7"/>
<line x1="379.0" y1="502" x2="379.0" y2="505.6" stroke="#5e5e5e" stroke-width="1.7"/>
<text x="243.9" y="379.1" font-size="13" text-anchor="end" font-weight="normal"  >6</text>
<text x="379.0" y="521.6" font-size="13" text-anchor="middle" font-weight="normal"  >6</text>
<text x="315.2" y="542.3" font-size="15.5" text-anchor="middle" font-weight="normal"  >Expected (%)</text>
<text transform="translate(218.3,437.3) rotate(-90)" font-size="15.5" text-anchor="middle">Observed (%)</text>
<text x="317.7" y="468.7" font-size="12.6"><tspan font-style="italic">n</tspan> = 101</text>
<text x="317.7" y="482.7" font-size="12.6"><tspan font-style="italic">k</tspan> = 1.40</text>
<text x="317.7" y="496.9" font-size="12.6"><tspan font-style="italic">P</tspan> &lt; 0.0001</text>
<use href="#h" x="250.6" y="501.3"/>
<use href="#h" x="251.2" y="498.6"/>
<use href="#h" x="251.0" y="495.6"/>
<use href="#h" x="251.6" y="492.0"/>
<use href="#h" x="252.2" y="489.4"/>
<use href="#h" x="250.9" y="486.7"/>
<use href="#h" x="251.3" y="484.2"/>
<use href="#h" x="252.3" y="482.0"/>
<use href="#h" x="252.7" y="479.5"/>
<use href="#h" x="252.0" y="477.1"/>
<use href="#h" x="252.3" y="473.9"/>
<use href="#h" x="257.4" y="476.5"/>
<use href="#h" x="259.3" y="478.7"/>
<use href="#h" x="263.6" y="479.3"/>
<use href="#h" x="265.2" y="479.4"/>
<use href="#h" x="267.3" y="476.5"/>
<use href="#h" x="270.9" y="474.1"/>
<use href="#h" x="276.5" y="474.4"/>
<use href="#h" x="276.8" y="477.0"/>
<use href="#h" x="272.9" y="481.8"/>
<use href="#h" x="270.0" y="484.7"/>
<use href="#h" x="268.2" y="486.1"/>
<use href="#h" x="265.8" y="487.6"/>
<use href="#h" x="264.8" y="489.2"/>
<use href="#h" x="263.4" y="490.8"/>
<use href="#h" x="261.2" y="493.7"/>
<use href="#h" x="258.7" y="495.4"/>
<use href="#h" x="257.1" y="497.2"/>
<use href="#h" x="256.1" y="500.3"/>
<polygon points="249.0,503.0 249.0,476.0 251.0,472.0 255.0,474.0 258.0,476.0 262.0,477.0 266.0,476.0 270.0,474.0 274.0,472.0 278.0,473.0 279.0,477.0 276.0,482.0 272.0,486.0 265.0,492.0 258.0,498.0 254.0,503.0" fill="#111"/>
<use href="#h" x="358.5" y="374.4"/>
<use href="#h" x="355.6" y="383.6"/>
<use href="#h" x="272.7" y="381.1"/>
<use href="#h" x="269.0" y="402.6"/>
<use href="#h" x="277.6" y="405.8"/>
<use href="#h" x="281.6" y="402.1"/>
<use href="#h" x="291.4" y="402.6"/>
<use href="#h" x="331.9" y="407.5"/>
<use href="#h" x="326.0" y="412.4"/>
<use href="#h" x="300.6" y="418.8"/>
<use href="#h" x="273.4" y="421.3"/>
<use href="#h" x="277.1" y="432.2"/>
<use href="#h" x="269.2" y="434.6"/>
<use href="#h" x="279.6" y="437.8"/>
<use href="#h" x="264.8" y="441.5"/>
<use href="#h" x="253.7" y="448.9"/>
<use href="#h" x="259.9" y="448.9"/>
<use href="#h" x="286.5" y="446.5"/>
<use href="#h" x="297.4" y="451.4"/>
<use href="#h" x="299.3" y="454.4"/>
<use href="#h" x="300.6" y="465.0"/>
<use href="#h" x="302.3" y="465.7"/>
<use href="#h" x="287.0" y="476.1"/>
<use href="#h" x="289.5" y="477.3"/>
<use href="#h" x="295.6" y="478.5"/>
<use href="#h" x="298.1" y="487.9"/>
<use href="#h" x="273.4" y="490.9"/>
<use href="#h" x="273.4" y="483.5"/>
<use href="#h" x="281.6" y="460.0"/>
<use href="#h" x="289.5" y="465.0"/>
<use href="#h" x="270.6" y="434.8"/>
<use href="#h" x="278.1" y="432.7"/>
<use href="#h" x="280.9" y="439.6"/>
<use href="#h" x="264.4" y="441.6"/>
<use href="#h" x="252.1" y="448.5"/>
<use href="#h" x="256.9" y="451.2"/>
<use href="#h" x="263.8" y="449.2"/>
<use href="#h" x="271.3" y="451.2"/>
<use href="#h" x="279.5" y="447.1"/>
<use href="#h" x="287.0" y="446.4"/>
<use href="#h" x="263.1" y="457.4"/>
<use href="#h" x="275.4" y="456.7"/>
<use href="#h" x="285.7" y="457.4"/>
<use href="#h" x="250.7" y="466.3"/>
<use href="#h" x="264.4" y="462.9"/>
<use href="#h" x="272.0" y="461.5"/>
<use href="#h" x="283.6" y="464.2"/>
<use href="#h" x="287.7" y="467.0"/>
<use href="#h" x="297.3" y="451.2"/>
<use href="#h" x="300.1" y="465.6"/>
<use href="#h" x="289.1" y="475.2"/>
<use href="#h" x="295.9" y="479.3"/>
<use href="#h" x="298.0" y="487.5"/>
<use href="#h" x="274.0" y="483.4"/>
<use href="#h" x="273.3" y="491.6"/>
<use href="#h" x="263.1" y="488.9"/>
<use href="#h" x="268.5" y="471.1"/>
<use href="#h" x="276.8" y="469.7"/>
<use href="#h" x="258.0" y="455.0"/>
<use href="#h" x="268.0" y="445.0"/>
<use href="#h" x="254.0" y="458.0"/>
<use href="#h" x="260.0" y="462.0"/>
<use href="#h" x="256.0" y="470.0"/>
<use href="#h" x="264.5" y="452.0"/>
<use href="#h" x="256.4" y="453.5"/>
<use href="#h" x="277.4" y="453.5"/>
<use href="#h" x="263.8" y="466.5"/>
<use href="#h" x="269.4" y="474.2"/>
<use href="#h" x="267.6" y="458.6"/>
<use href="#h" x="272.1" y="452.5"/>
<use href="#h" x="282.5" y="457.2"/>
<use href="#h" x="264.0" y="466.5"/>
<use href="#h" x="255.5" y="465.8"/>
<use href="#h" x="280.6" y="456.2"/>
<use href="#h" x="284.1" y="461.9"/>
<use href="#h" x="277.9" y="460.1"/>
<use href="#h" x="264.5" y="454.1"/>
<use href="#h" x="250.3" y="452.1"/>
<use href="#h" x="285.6" y="462.0"/>
<use href="#h" x="266.6" y="473.0"/>
<use href="#h" x="271.8" y="475.3"/>
<use href="#h" x="262.9" y="452.5"/>
<use href="#h" x="283.1" y="450.8"/>
<use href="#h" x="278.5" y="463.9"/>
<use href="#h" x="285.4" y="474.3"/>
<use href="#h" x="273.8" y="447.1"/>
<use href="#h" x="250.8" y="460.2"/>
<use href="#h" x="279.5" y="448.4"/>
<use href="#h" x="265.3" y="448.6"/>
<use href="#h" x="261.2" y="446.2"/>
<use href="#h" x="261.9" y="461.7"/>
<line x1="251.5" y1="502" x2="342.6" y2="374.5" stroke="#0a0a0a" stroke-width="2.9" stroke-linecap="round"/>
<line x1="251.5" y1="502" x2="379.0" y2="374.5" stroke="#ababab" stroke-width="2.9" stroke-linecap="round"/>
<line x1="451.3" y1="373.7" x2="451.3" y2="501.5" stroke="#5e5e5e" stroke-width="1.7"/>
<line x1="450.5" y1="501.5" x2="579.0999999999999" y2="501.5" stroke="#5e5e5e" stroke-width="1.7"/>
<line x1="448.5" y1="501.5" x2="451.3" y2="501.5" stroke="#5e5e5e" stroke-width="1.7"/>
<line x1="451.3" y1="501.5" x2="451.3" y2="505.1" stroke="#5e5e5e" stroke-width="1.7"/>
<text x="443.7" y="506.1" font-size="13" text-anchor="end" font-weight="normal"  >0</text>
<text x="451.3" y="521.1" font-size="13" text-anchor="middle" font-weight="normal"  >0</text>
<line x1="448.5" y1="476.1" x2="451.3" y2="476.1" stroke="#5e5e5e" stroke-width="1.7"/>
<line x1="476.7" y1="501.5" x2="476.7" y2="505.1" stroke="#5e5e5e" stroke-width="1.7"/>
<text x="443.7" y="480.7" font-size="13" text-anchor="end" font-weight="normal"  >2</text>
<text x="476.7" y="521.1" font-size="13" text-anchor="middle" font-weight="normal"  >2</text>
<line x1="448.5" y1="450.7" x2="451.3" y2="450.7" stroke="#5e5e5e" stroke-width="1.7"/>
<line x1="502.1" y1="501.5" x2="502.1" y2="505.1" stroke="#5e5e5e" stroke-width="1.7"/>
<text x="443.7" y="455.3" font-size="13" text-anchor="end" font-weight="normal"  >4</text>
<text x="502.1" y="521.1" font-size="13" text-anchor="middle" font-weight="normal"  >4</text>
<line x1="448.5" y1="425.3" x2="451.3" y2="425.3" stroke="#5e5e5e" stroke-width="1.7"/>
<line x1="527.5" y1="501.5" x2="527.5" y2="505.1" stroke="#5e5e5e" stroke-width="1.7"/>
<text x="443.7" y="429.9" font-size="13" text-anchor="end" font-weight="normal"  >6</text>
<text x="527.5" y="521.1" font-size="13" text-anchor="middle" font-weight="normal"  >6</text>
<line x1="448.5" y1="399.9" x2="451.3" y2="399.9" stroke="#5e5e5e" stroke-width="1.7"/>
<line x1="552.9" y1="501.5" x2="552.9" y2="505.1" stroke="#5e5e5e" stroke-width="1.7"/>
<text x="443.7" y="404.5" font-size="13" text-anchor="end" font-weight="normal"  >8</text>
<text x="552.9" y="521.1" font-size="13" text-anchor="middle" font-weight="normal"  >8</text>
<line x1="448.5" y1="374.5" x2="451.3" y2="374.5" stroke="#5e5e5e" stroke-width="1.7"/>
<line x1="578.3" y1="501.5" x2="578.3" y2="505.1" stroke="#5e5e5e" stroke-width="1.7"/>
<text x="443.7" y="379.1" font-size="13" text-anchor="end" font-weight="normal"  >10</text>
<text x="578.3" y="521.1" font-size="13" text-anchor="middle" font-weight="normal"  >10</text>
<text x="514.8" y="541.8" font-size="15.5" text-anchor="middle" font-weight="normal"  >Expected (%)</text>
<text transform="translate(418.5,437.3) rotate(-90)" font-size="15.5" text-anchor="middle">Observed (%)</text>
<text x="527.7" y="468.5" font-size="12.6"><tspan font-style="italic">n</tspan> = 169</text>
<text x="527.7" y="482.5" font-size="12.6"><tspan font-style="italic">k</tspan> = 1.32</text>
<text x="527.7" y="496.5" font-size="12.6"><tspan font-style="italic">P</tspan> &lt; 0.0001</text>
<use href="#f" x="450.9" y="500.7"/>
<use href="#f" x="451.6" y="497.1"/>
<use href="#f" x="451.0" y="495.1"/>
<use href="#f" x="450.8" y="491.4"/>
<use href="#f" x="450.9" y="488.6"/>
<use href="#f" x="452.0" y="486.3"/>
<use href="#f" x="452.6" y="482.6"/>
<use href="#f" x="452.0" y="480.1"/>
<use href="#f" x="452.3" y="478.1"/>
<use href="#f" x="452.7" y="475.1"/>
<use href="#f" x="454.3" y="475.3"/>
<use href="#f" x="456.5" y="472.8"/>
<use href="#f" x="459.1" y="469.6"/>
<use href="#f" x="461.1" y="465.3"/>
<use href="#f" x="462.7" y="467.3"/>
<use href="#f" x="465.8" y="465.9"/>
<use href="#f" x="469.5" y="468.8"/>
<use href="#f" x="473.2" y="464.5"/>
<use href="#f" x="476.4" y="463.3"/>
<use href="#f" x="477.9" y="465.1"/>
<use href="#f" x="479.5" y="467.6"/>
<use href="#f" x="481.3" y="470.4"/>
<use href="#f" x="481.5" y="472.6"/>
<use href="#f" x="481.7" y="475.6"/>
<use href="#f" x="479.2" y="478.7"/>
<use href="#f" x="476.6" y="481.4"/>
<use href="#f" x="477.1" y="483.2"/>
<use href="#f" x="477.6" y="486.2"/>
<use href="#f" x="479.0" y="489.3"/>
<use href="#f" x="479.2" y="492.8"/>
<use href="#f" x="474.3" y="493.2"/>
<use href="#f" x="471.4" y="493.3"/>
<use href="#f" x="468.9" y="495.3"/>
<use href="#f" x="464.9" y="497.4"/>
<use href="#f" x="462.8" y="497.2"/>
<use href="#f" x="460.4" y="499.6"/>
<use href="#f" x="457.2" y="499.6"/>
<use href="#f" x="454.6" y="501.2"/>
<polygon points="450.0,503.0 449.0,490.0 450.0,475.0 452.0,473.0 455.0,470.0 458.0,468.0 460.3,462.9 462.0,465.0 466.0,463.0 470.0,466.0 474.0,462.0 480.0,463.0 483.6,468.4 485.0,475.2 479.5,482.1 480.9,494.4 475.4,495.8 465.8,499.9 456.2,502.6" fill="#111"/>
<use href="#f" x="465.3" y="394.2"/>
<use href="#f" x="463.6" y="405.8"/>
<use href="#f" x="501.3" y="407.0"/>
<use href="#f" x="466.0" y="414.4"/>
<use href="#f" x="479.1" y="411.9"/>
<use href="#f" x="475.9" y="418.1"/>
<use href="#f" x="500.6" y="423.8"/>
<use href="#f" x="489.0" y="425.5"/>
<use href="#f" x="473.4" y="428.0"/>
<use href="#f" x="514.6" y="428.7"/>
<use href="#f" x="463.6" y="432.9"/>
<use href="#f" x="468.5" y="433.6"/>
<use href="#f" x="462.3" y="439.8"/>
<use href="#f" x="488.2" y="441.5"/>
<use href="#f" x="497.4" y="444.5"/>
<use href="#f" x="467.3" y="446.0"/>
<use href="#f" x="481.6" y="448.4"/>
<use href="#f" x="508.0" y="452.6"/>
<use href="#f" x="463.6" y="453.9"/>
<use href="#f" x="474.7" y="455.1"/>
<use href="#f" x="489.5" y="453.9"/>
<use href="#f" x="500.6" y="460.0"/>
<use href="#f" x="464.8" y="462.5"/>
<use href="#f" x="482.1" y="463.7"/>
<use href="#f" x="514.6" y="477.3"/>
<use href="#f" x="504.8" y="479.8"/>
<use href="#f" x="497.4" y="476.1"/>
<use href="#f" x="490.0" y="478.5"/>
<use href="#f" x="480.8" y="478.5"/>
<use href="#f" x="479.6" y="494.6"/>
<use href="#f" x="474.7" y="489.6"/>
<use href="#f" x="465.1" y="447.1"/>
<use href="#f" x="463.1" y="454.0"/>
<use href="#f" x="467.2" y="451.9"/>
<use href="#f" x="474.0" y="455.3"/>
<use href="#f" x="476.1" y="457.4"/>
<use href="#f" x="472.7" y="460.1"/>
<use href="#f" x="482.2" y="447.8"/>
<use href="#f" x="488.4" y="441.0"/>
<use href="#f" x="489.1" y="453.3"/>
<use href="#f" x="486.4" y="456.7"/>
<use href="#f" x="497.3" y="445.1"/>
<use href="#f" x="500.1" y="459.5"/>
<use href="#f" x="489.1" y="477.9"/>
<use href="#f" x="497.3" y="475.2"/>
<use href="#f" x="504.2" y="480.0"/>
<use href="#f" x="463.1" y="434.1"/>
<use href="#f" x="467.2" y="432.7"/>
<use href="#f" x="462.4" y="439.6"/>
<use href="#f" x="480.9" y="477.9"/>
<use href="#f" x="479.5" y="493.0"/>
<use href="#f" x="506.9" y="453.3"/>
<line x1="451.3" y1="501.5" x2="547.5" y2="374.5" stroke="#0a0a0a" stroke-width="2.9" stroke-linecap="round"/>
<line x1="451.3" y1="501.5" x2="578.3" y2="374.5" stroke="#ababab" stroke-width="2.9" stroke-linecap="round"/>
<text x="1.3" y="173.6" font-size="15.5" text-anchor="start" font-weight="bold"  stroke="#111" stroke-width="0.6">b</text>
<text x="1.3" y="374.2" font-size="15.5" text-anchor="start" font-weight="bold"  stroke="#111" stroke-width="0.6">c</text>
<text x="594.4" y="242.3" font-size="15" text-anchor="start" font-weight="normal"  >2 KIRs</text>
<text x="594.4" y="441.9" font-size="15" text-anchor="start" font-weight="normal"  >3 KIRs</text>
</svg>
</body></html>
